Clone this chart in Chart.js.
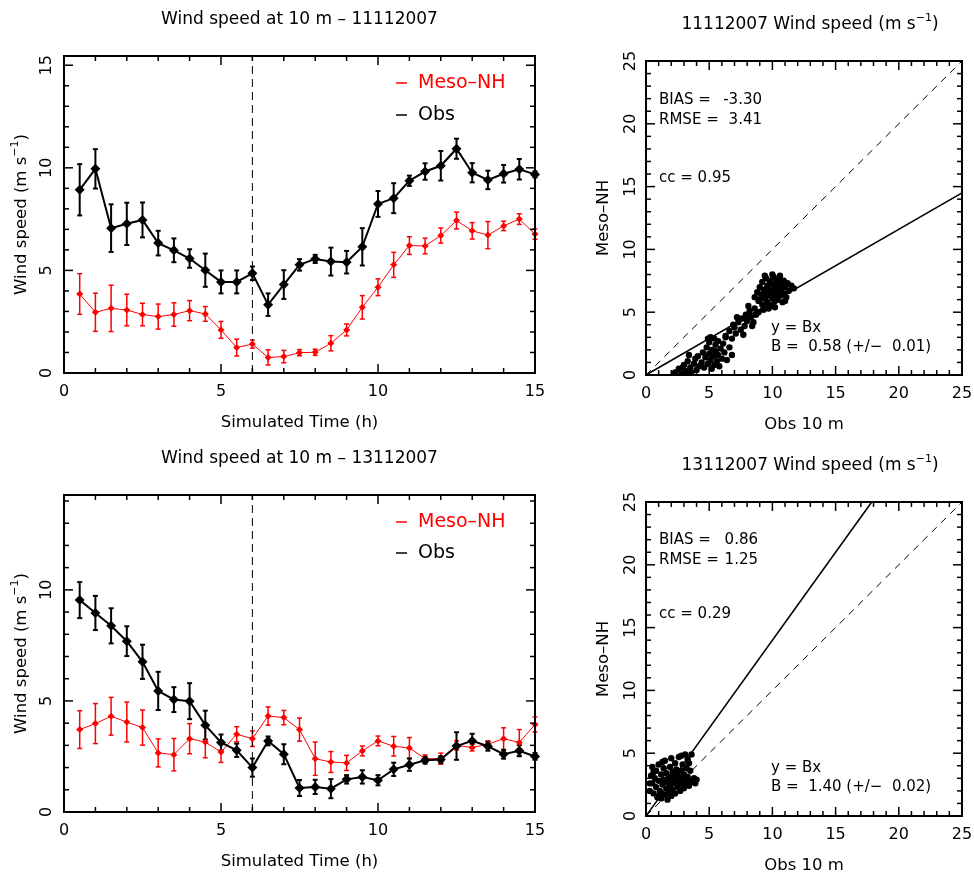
<!DOCTYPE html>
<html>
<head>
<meta charset="utf-8">
<script src="https://cdn.jsdelivr.net/npm/chart.js@4.4.0/dist/chart.umd.min.js"></script>
<style>
  html, body { margin: 0; padding: 0; background: #fff; }
  #wrap { position: relative; width: 974px; height: 873px; }
  #wrap canvas { position: absolute; left: 0; top: 0; width: 974px; height: 873px; }
</style>
</head>
<body>
<div id="wrap">
  <canvas id="ts11" width="974" height="873"></canvas>
  <canvas id="ts13" width="974" height="873"></canvas>
  <canvas id="sc11" width="974" height="873"></canvas>
  <canvas id="sc13" width="974" height="873"></canvas>
</div>
<script>
// ---- data ----
const hours = [0.5, 1, 1.5, 2, 2.5, 3, 3.5, 4, 4.5, 5, 5.5, 6, 6.5, 7, 7.5, 8, 8.5, 9, 9.5, 10,
  10.5, 11, 11.5, 12, 12.5, 13, 13.5, 14, 14.5, 15];

// 11/11/2007
const obs11 = [8.93, 9.95, 7.06, 7.27, 7.46, 6.33, 5.98, 5.58, 5.01, 4.44, 4.44, 4.86, 3.33, 4.31, 5.27,
  5.56, 5.43, 5.40, 6.15, 8.24, 8.52, 9.37, 9.82, 10.10, 10.93, 9.76, 9.41, 9.71, 9.93, 9.68];
const obs11Err = [1.25, 0.96, 1.16, 1.03, 0.85, 0.60, 0.58, 0.45, 0.81, 0.56, 0.56, 0.33, 0.55, 0.70, 0.28,
  0.20, 0.68, 0.55, 0.91, 0.63, 0.73, 0.25, 0.40, 0.72, 0.49, 0.47, 0.45, 0.43, 0.50, 0.15];
const meso11 = [3.85, 2.96, 3.15, 3.07, 2.85, 2.75, 2.85, 3.04, 2.88, 2.10, 1.24, 1.41, 0.76, 0.80, 0.99,
  1.01, 1.45, 2.10, 3.20, 4.18, 5.27, 6.21, 6.19, 6.70, 7.43, 6.93, 6.72, 7.17, 7.50, 6.77];
const meso11Err = [0.99, 0.93, 1.13, 0.77, 0.55, 0.61, 0.57, 0.49, 0.36, 0.41, 0.41, 0.20, 0.37, 0.30, 0.15,
  0.15, 0.37, 0.29, 0.57, 0.41, 0.61, 0.43, 0.38, 0.37, 0.41, 0.40, 0.66, 0.23, 0.26, 0.25];

// 13/11/2007
const obs13 = [9.54, 8.96, 8.38, 7.69, 6.76, 5.45, 5.06, 4.99, 3.91, 3.13, 2.78, 2.00, 3.20, 2.60, 1.08,
  1.13, 1.05, 1.47, 1.58, 1.43, 1.92, 2.13, 2.33, 2.36, 2.97, 3.20, 2.96, 2.60, 2.76, 2.50];
const obs13Err = [0.81, 0.77, 0.79, 0.67, 0.77, 0.86, 0.56, 0.81, 0.65, 0.36, 0.30, 0.41, 0.20, 0.45, 0.36,
  0.32, 0.43, 0.19, 0.30, 0.23, 0.30, 0.28, 0.15, 0.15, 0.62, 0.32, 0.20, 0.20, 0.25, 0.15];
const meso13 = [3.71, 3.98, 4.31, 4.05, 3.80, 2.66, 2.58, 3.30, 3.15, 2.70, 3.50, 3.30, 4.32, 4.25, 3.71,
  2.40, 2.25, 2.21, 2.75, 3.20, 2.96, 2.88, 2.40, 2.40, 3.00, 2.90, 3.05, 3.30, 3.13, 3.94];
const meso13Err = [0.85, 0.90, 0.85, 0.90, 0.79, 0.63, 0.73, 0.68, 0.71, 0.47, 0.34, 0.35, 0.41, 0.32, 0.52,
  0.75, 0.47, 0.34, 0.22, 0.22, 0.44, 0.47, 0.17, 0.25, 0.20, 0.15, 0.15, 0.49, 0.58, 0.34];

// scatter clouds (obs, model)
const scat11Obs = [8.6, 8.8, 8.9, 9.0, 9.1, 9.2, 9.2, 9.3, 9.4, 9.5, 9.5, 9.6, 9.6, 9.7, 9.8, 9.8, 9.9, 9.9,
  10.0, 10.0, 10.1, 10.1, 10.2, 10.2, 10.3, 10.3, 10.4, 10.4, 10.5, 10.5, 10.6, 10.7, 10.7, 10.8, 10.9, 10.9,
  11.0, 11.1, 11.2, 11.3, 11.5, 11.7, 9.4, 10.0, 10.6, 9.0, 9.7, 10.2, 11.0, 9.3,
  6.3, 6.6, 6.8, 7.0, 7.1, 7.3, 7.5, 7.6, 7.8, 7.9, 8.0, 8.2, 8.3, 8.4, 8.6, 8.7, 8.9, 7.2, 6.9, 8.1, 7.7, 8.5,
  4.4, 4.5, 4.6, 4.7, 4.8, 4.9, 5.0, 5.0, 5.1, 5.2, 5.2, 5.3, 5.4, 5.4, 5.5, 5.5, 5.6, 5.7, 5.7, 5.8, 5.9,
  6.0, 6.1, 6.2, 6.3, 6.4, 6.6, 6.8, 5.1, 4.9,
  2.3, 2.6, 2.8, 3.0, 3.2, 3.3, 3.5, 3.6, 3.8, 3.9, 4.0, 4.2, 4.1, 3.4, 2.9];
const scat11Meso = [6.2, 6.6, 5.9, 7.0, 6.4, 5.6, 7.4, 6.8, 6.1, 7.7, 6.5, 7.1, 5.8, 6.9, 6.3, 7.5, 6.7, 5.5,
  7.2, 6.1, 7.8, 6.6, 6.9, 5.9, 7.4, 6.4, 7.0, 6.0, 6.7, 7.6, 6.3, 7.2, 6.8, 5.8, 7.5, 6.5,
  7.0, 6.2, 7.3, 6.7, 7.1, 6.9, 7.9, 8.0, 7.9, 6.0, 5.3, 5.4, 5.9, 5.2,
  3.0, 3.5, 2.9, 3.8, 3.3, 4.2, 3.6, 4.5, 3.9, 4.8, 4.3, 5.1, 4.6, 3.9, 5.3, 4.8, 5.0, 4.6, 4.0, 5.5, 3.2, 4.2,
  1.0, 1.8, 0.6, 1.4, 2.2, 0.9, 1.7, 2.6, 1.2, 0.5, 2.0, 1.5, 2.9, 0.8, 1.9, 2.4, 1.1, 1.6, 2.7, 0.7, 2.1,
  1.3, 2.5, 1.8, 3.1, 1.2, 2.2, 1.6, 3.0, 2.9,
  0.2, 0.5, 0.1, 0.8, 0.3, 1.1, 0.6, 0.2, 0.9, 1.3, 0.4, 0.7, 1.5, 1.6, 0.6];

const scat13Obs = [0.3, 0.4, 0.5, 0.5, 0.6, 0.7, 0.8, 0.8, 0.9, 1.0, 1.0, 1.1, 1.2, 1.2, 1.3, 1.4, 1.4, 1.5,
  1.5, 1.6, 1.6, 1.7, 1.8, 1.8, 1.9, 1.9, 2.0, 2.0, 2.1, 2.1, 2.2, 2.2, 2.3, 2.3, 2.4, 2.4, 2.5, 2.5, 2.6,
  2.6, 2.7, 2.7, 2.8, 2.8, 2.9, 2.9, 3.0, 3.0, 3.1, 3.1, 3.2, 3.2, 3.3, 3.3, 3.4, 3.5, 3.5, 3.6, 3.7, 3.8,
  3.9, 4.0, 1.0, 1.7, 0.6, 2.0, 1.3, 2.8, 3.4, 0.3];
const scat13Meso = [2.0, 3.2, 2.6, 3.9, 1.8, 3.0, 2.3, 3.6, 1.5, 2.8, 4.1, 2.0, 3.3, 1.4, 2.5, 3.8, 2.9, 1.7,
  4.4, 2.2, 3.4, 2.7, 3.1, 1.9, 3.9, 2.4, 2.9, 4.6, 2.1, 3.5, 2.6, 3.2, 1.8, 4.2, 2.9, 3.7, 2.3, 3.3, 2.7,
  4.7, 3.0, 2.0, 3.6, 2.5, 4.1, 2.8, 3.3, 2.2, 4.9, 2.9, 3.8, 2.6, 4.5, 3.1, 2.4, 2.8, 3.6, 4.9, 2.7, 3.0,
  2.6, 2.9, 1.6, 1.3, 3.5, 1.6, 4.3, 4.8, 4.2, 2.6];

// statistics printed on the scatter panels
const stats11 = { bias: "-3.30", rmse: "3.41", cc: "0.95", slope: 0.58, slopeErr: "0.01" };
const stats13 = { bias: "0.86", rmse: "1.25", cc: "0.29", slope: 1.40, slopeErr: "0.02" };

const timeMajor = [0, 5, 10, 15];
const scatMajor = [0, 5, 10, 15, 20, 25];

const FONT = '"DejaVu Sans", sans-serif';
const RED = "#ff0000";

// ---- drawing helpers ----
function richText(ctx, x, y, parts, size, align) {
  let total = 0;
  const widths = parts.map(([t, sup]) => {
    ctx.font = (sup ? Math.round(size * 0.65) : size) + "px " + FONT;
    const w = ctx.measureText(t).width;
    total += w;
    return w;
  });
  let cx = align === "center" ? x - total / 2 : x;
  ctx.textAlign = "left";
  ctx.textBaseline = "middle";
  parts.forEach(([t, sup], i) => {
    ctx.font = (sup ? Math.round(size * 0.65) : size) + "px " + FONT;
    ctx.fillText(t, cx, sup ? y - size * 0.42 : y);
    cx += widths[i];
  });
}

function vertText(ctx, x, y, parts, size) {
  ctx.save();
  ctx.translate(x, y);
  ctx.rotate(-Math.PI / 2);
  richText(ctx, 0, 0, parts, size, "center");
  ctx.restore();
}

function line(ctx, x1, y1, x2, y2) {
  ctx.beginPath();
  ctx.moveTo(x1, y1);
  ctx.lineTo(x2, y2);
  ctx.stroke();
}

function drawFrame(chart, p) {
  const { ctx, chartArea: a } = chart;
  const xs = chart.scales.x, ys = chart.scales.y;
  ctx.save();
  ctx.strokeStyle = "#000";
  ctx.fillStyle = "#000";
  ctx.lineWidth = 2;
  ctx.strokeRect(a.left, a.top, a.right - a.left, a.bottom - a.top);
  ctx.lineWidth = 1.5;
  for (let v = xs.min; v <= xs.max; v++) {
    const len = p.xMajor.includes(v) ? 9 : 5;
    const px = xs.getPixelForValue(v);
    line(ctx, px, a.bottom, px, a.bottom - len);
    line(ctx, px, a.top, px, a.top + len);
  }
  for (let v = 0; v <= ys.max; v++) {
    const len = p.yMajor.includes(v) ? 9 : 5;
    const py = ys.getPixelForValue(v);
    line(ctx, a.left, py, a.left + len, py);
    line(ctx, a.right, py, a.right - len, py);
  }
  // tick labels
  ctx.font = "16px " + FONT;
  ctx.textAlign = "center";
  ctx.textBaseline = "middle";
  p.xMajor.forEach(v => ctx.fillText(String(v), xs.getPixelForValue(v), a.bottom + p.xLabOff));
  p.yMajor.forEach(v => vertText(ctx, a.left - p.yLabOff, ys.getPixelForValue(v), [[String(v), false]], 16));
  // axis titles
  richText(ctx, (a.left + a.right) / 2, a.bottom + 50, [[p.xTitle, false]], 16.5, "center");
  vertText(ctx, a.left - 42, (a.top + a.bottom) / 2, p.yTitle, 16.5);
  richText(ctx, p.titleX || (a.left + a.right) / 2, a.top - 36, p.title, 17, "center");
  ctx.restore();
}

function drawErrorBars(chart, sets) {
  const { ctx } = chart;
  const xs = chart.scales.x, ys = chart.scales.y;
  ctx.save();
  sets.forEach(s => {
    ctx.strokeStyle = s.color;
    ctx.lineWidth = s.width;
    s.values.forEach((v, i) => {
      const px = xs.getPixelForValue(hours[i]);
      const top = ys.getPixelForValue(v + s.err[i]);
      const bot = ys.getPixelForValue(v - s.err[i]);
      line(ctx, px, top, px, bot);
      line(ctx, px - 2.5, top, px + 2.5, top);
      line(ctx, px - 2.5, bot, px + 2.5, bot);
    });
  });
  ctx.restore();
}

function drawLegend(chart, y1, y2) {
  const { ctx } = chart;
  ctx.save();
  ctx.lineWidth = 1.5;
  ctx.strokeStyle = RED;
  line(ctx, 396, y1, 407, y1);
  ctx.strokeStyle = "#000";
  line(ctx, 396, y2, 407, y2);
  ctx.font = "19px " + FONT;
  ctx.textAlign = "left";
  ctx.textBaseline = "middle";
  ctx.fillStyle = RED;
  ctx.fillText("Meso\u2013NH", 418, y1);
  ctx.fillStyle = "#000";
  ctx.fillText("Obs", 418, y2);
  ctx.restore();
}

function drawStats(chart, s, numRight, yRows, fitRows) {
  const { ctx } = chart;
  ctx.save();
  ctx.fillStyle = "#000";
  ctx.font = "15px " + FONT;
  ctx.textBaseline = "middle";
  ctx.textAlign = "left";
  ctx.fillText("BIAS =", 659, yRows[0]);
  ctx.fillText("RMSE =", 659, yRows[1]);
  ctx.fillText("cc = " + s.cc, 659, yRows[2]);
  ctx.fillText("y = Bx", 771, fitRows[0]);
  ctx.fillText("B =  " + s.slope.toFixed(2) + " (+/\u2212  " + s.slopeErr + ")", 771, fitRows[1]);
  ctx.textAlign = "right";
  ctx.fillText(s.bias, numRight, yRows[0]);
  ctx.fillText(s.rmse, numRight, yRows[1]);
  ctx.restore();
}

const unitParts = t => [[t + " (m s", false], ["\u22121", true], [")", false]];

// ---- time-series panels ----
function timeChart(id, area, ymax, obs, obsErr, meso, mesoErr, date, legendY) {
  const p = {
    xMajor: timeMajor, yMajor: timeMajor.filter(v => v <= ymax),
    xLabOff: 19, yLabOff: 17,
    xTitle: "Simulated Time (h)",
    yTitle: unitParts("Wind speed"),
    title: [["Wind speed at 10 m \u2013 " + date, false]]
  };
  return new Chart(document.getElementById(id), {
    type: "line",
    data: {
      datasets: [
        {
          label: "Obs",
          data: hours.map((h, i) => ({ x: h, y: obs[i] })),
          borderColor: "#000", backgroundColor: "#000", borderWidth: 2,
          pointStyle: "rectRot", pointRadius: 5, pointBorderWidth: 0,
          clip: false, order: 0
        },
        {
          label: "Meso-NH",
          data: hours.map((h, i) => ({ x: h, y: meso[i] })),
          borderColor: RED, backgroundColor: RED, borderWidth: 1,
          pointStyle: "rectRot", pointRadius: 3.5, pointBorderWidth: 0,
          clip: false, order: 1
        },
        {
          label: "spin-up",
          data: [{ x: 6, y: 0 }, { x: 6, y: ymax }],
          borderColor: "#000", borderWidth: 1, borderDash: [8, 5],
          pointRadius: 0, order: 2
        }
      ]
    },
    options: {
      responsive: false,
      animation: false,
      events: [],
      layout: { padding: { left: area.l, top: area.t, right: 974 - area.r, bottom: 873 - area.b } },
      scales: {
        x: { type: "linear", display: false, min: 0, max: 15 },
        y: { type: "linear", display: false, min: 0, max: ymax }
      },
      plugins: { legend: { display: false }, tooltip: { enabled: false } }
    },
    plugins: [{
      id: "panel",
      beforeDatasetsDraw(chart) {
        drawErrorBars(chart, [
          { values: meso, err: mesoErr, color: RED, width: 1.5 },
          { values: obs, err: obsErr, color: "#000", width: 2 }
        ]);
      },
      afterDraw(chart) {
        drawFrame(chart, p);
        drawLegend(chart, legendY[0], legendY[1]);
      }
    }]
  });
}

// ---- scatter panels ----
function scatterChart(id, area, xs, ys, stats, date, numRight, statRows, fitRows) {
  const p = {
    xMajor: scatMajor, yMajor: scatMajor,
    xLabOff: 19, yLabOff: 15,
    xTitle: "Obs 10 m",
    yTitle: [["Meso\u2013NH", false]],
    title: [[date + " Wind speed (m s", false], ["\u22121", true], [")", false]],
    titleX: 810
  };
  const endX = Math.min(25, 25 / stats.slope);
  return new Chart(document.getElementById(id), {
    type: "scatter",
    data: {
      datasets: [
        {
          label: "points",
          data: xs.map((v, i) => ({ x: v, y: ys[i] })),
          backgroundColor: "#000", pointRadius: 3.2, pointBorderWidth: 0
        },
        {
          label: "fit",
          data: [{ x: 0, y: 0 }, { x: endX, y: endX * stats.slope }],
          showLine: true, borderColor: "#000", borderWidth: 1.6, pointRadius: 0
        },
        {
          label: "1:1",
          data: [{ x: 0, y: 0 }, { x: 25, y: 25 }],
          showLine: true, borderColor: "#000", borderWidth: 1, borderDash: [7, 6], pointRadius: 0
        }
      ]
    },
    options: {
      responsive: false,
      animation: false,
      events: [],
      layout: { padding: { left: area.l, top: area.t, right: 974 - area.r, bottom: 873 - area.b } },
      scales: {
        x: { type: "linear", display: false, min: 0, max: 25 },
        y: { type: "linear", display: false, min: 0, max: 25 }
      },
      plugins: { legend: { display: false }, tooltip: { enabled: false } }
    },
    plugins: [{
      id: "panel",
      afterDraw(chart) {
        drawFrame(chart, p);
        drawStats(chart, stats, numRight, statRows, fitRows);
      }
    }]
  });
}

timeChart("ts11", { l: 64, r: 535, t: 56, b: 373 }, 15.45, obs11, obs11Err, meso11, meso11Err, "11112007", [83, 115]);
timeChart("ts13", { l: 64, r: 535, t: 495, b: 812 }, 14.27, obs13, obs13Err, meso13, meso13Err, "13112007", [522, 553]);
scatterChart("sc11", { l: 646, r: 962, t: 61, b: 375 }, scat11Obs, scat11Meso, stats11, "11112007", 762, [100, 120, 178], [328, 347]);
scatterChart("sc13", { l: 646, r: 962, t: 502, b: 816 }, scat13Obs, scat13Meso, stats13, "13112007", 758, [540, 560, 614], [768, 787]);
</script>
</body>
</html>
